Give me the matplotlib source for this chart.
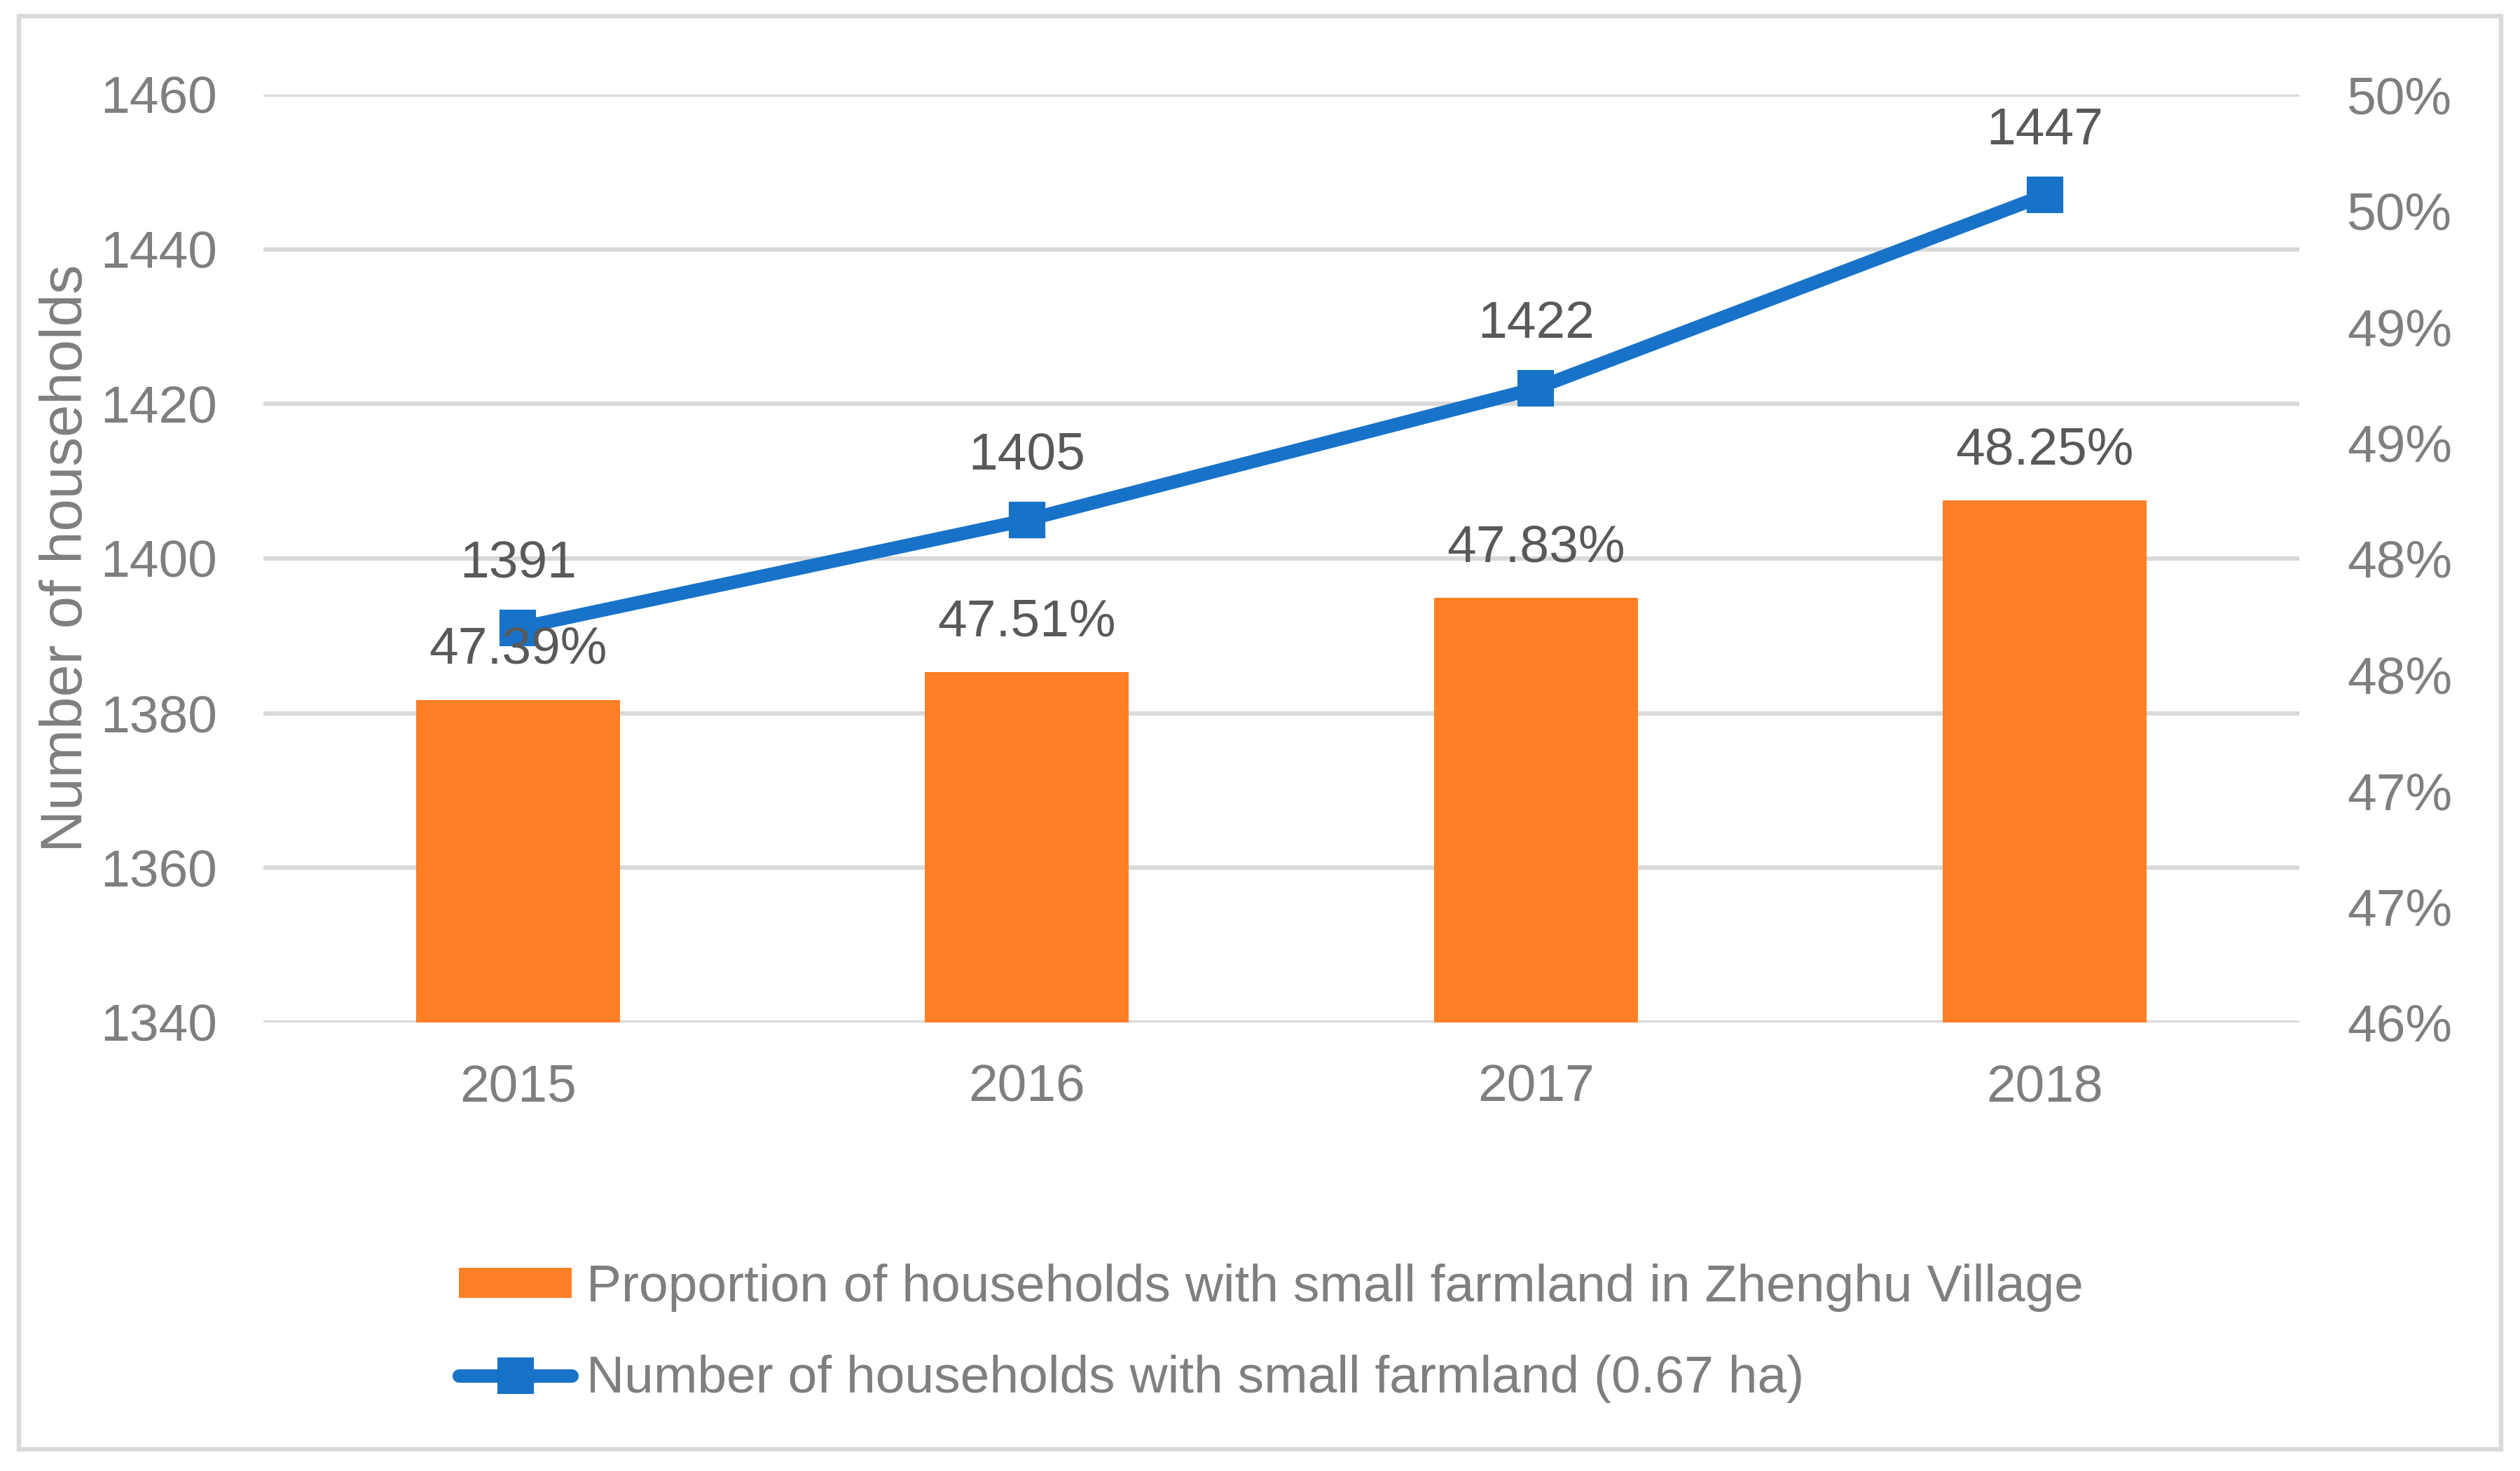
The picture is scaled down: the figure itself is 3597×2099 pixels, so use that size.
import math
import matplotlib
matplotlib.use("Agg")
import matplotlib.pyplot as plt
from matplotlib.patches import Rectangle
from matplotlib.ticker import FixedLocator, FuncFormatter

plt.rcParams['font.family'] = ['Liberation Sans', 'DejaVu Sans']

# ---- data ----
years = ["2015", "2016", "2017", "2018"]
proportion_pct = [47.39, 47.51, 47.83, 48.25]
households = [1391, 1405, 1422, 1447]
left_ticks = [1340, 1360, 1380, 1400, 1420, 1440, 1460]
right_ticks = [46.0, 46.5, 47.0, 47.5, 48.0, 48.5, 49.0, 49.5, 50.0]

bar_label = "Proportion of households with small farmland in Zhenghu Village"
line_label = "Number of households with small farmland (0.67 ha)"
y_title = "Number of households"

# ---- style ----
W, H, DPI = 3597, 2099, 300
ORANGE = "#FF7F27"
BLUE = "#1873C8"
GRID = "#D9D9D9"
TICK_C = "#7F7F7F"
LAB_C = "#595959"
FS = 18

fig = plt.figure(figsize=(W / DPI, H / DPI), dpi=DPI)

# figure border
fig.patches.append(Rectangle((27 / W, (H - 2068) / H), (3570 - 27) / W, (2068 - 23) / H,
                             transform=fig.transFigure, fill=False,
                             edgecolor=GRID, linewidth=1.55, zorder=0))

left, right, top, bottom = 376, 3282, 135, 1459
ax = fig.add_axes([left / W, (H - bottom) / H, (right - left) / W, (bottom - top) / H])
ax2 = ax.twinx()

x = list(range(len(years)))

# line (left axis)
ln, = ax.plot(x, households, color=BLUE, linewidth=4.6, marker='s', markersize=11.5,
              solid_capstyle='round', zorder=3, label=line_label)
ax.set_ylim(1340, 1460)
ax.yaxis.set_major_locator(FixedLocator(left_ticks))
ax.grid(axis='y', color=GRID, linewidth=1.5)
ax.set_axisbelow(True)
ax.set_xlim(-0.5, len(years) - 0.5)
ax.set_xticks(x)
ax.set_xticklabels(years)
for xi, v in zip(x, households):
    ax.annotate(f"{v}", (xi, v), xytext=(0, 17.3), textcoords='offset points',
                ha='center', va='baseline', fontsize=FS, color=LAB_C, zorder=5)

# bars (right axis)
bars = ax2.bar(x, proportion_pct, width=0.4, color=ORANGE, zorder=2, label=bar_label,
               bottom=0)
ax2.set_ylim(46, 50)
ax2.yaxis.set_major_locator(FixedLocator(right_ticks))
ax2.yaxis.set_major_formatter(FuncFormatter(lambda v, p: f"{int(math.floor(v + 0.5))}%"))
for xi, v in zip(x, proportion_pct):
    ax2.annotate(f"{v:.2f}%", (xi, v), xytext=(0, 12.5), textcoords='offset points',
                 ha='center', va='baseline', fontsize=FS, color=LAB_C, zorder=5)

for a in (ax, ax2):
    for s in a.spines.values():
        s.set_visible(False)
    a.tick_params(length=0, labelsize=FS, labelcolor=TICK_C)

ax.tick_params(axis='y', pad=15.8)
ax2.tick_params(axis='y', pad=16.3)
ax.tick_params(axis='x', pad=14)

ax.set_ylabel(y_title, fontsize=20, color=TICK_C)
ax.yaxis.set_label_coords((134 - left) / (right - left), 0.5)

fig.legend(handles=[bars, ln], labels=[bar_label, line_label],
           loc='upper left', bbox_to_anchor=(655 / W, (H - 1803) / H),
           frameon=False, fontsize=FS, labelcolor=TICK_C,
           handlelength=2.15, handleheight=0.52, handletextpad=0.28,
           labelspacing=0.82, borderpad=0, borderaxespad=0)

fig.savefig("out.png", dpi=DPI)
